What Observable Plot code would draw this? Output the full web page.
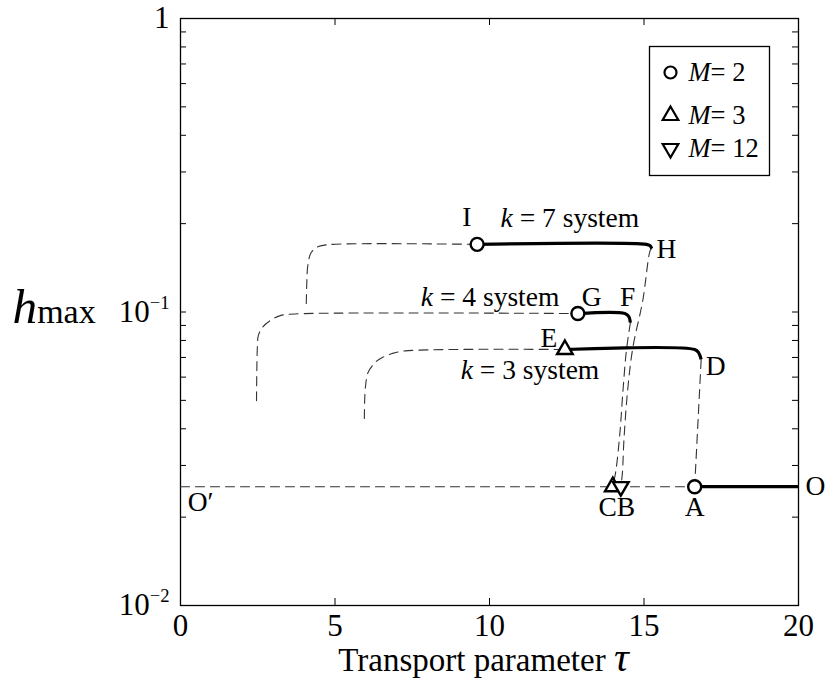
<!DOCTYPE html>
<html><head><meta charset="utf-8">
<script src="https://cdn.jsdelivr.net/npm/d3@7"></script>
<script src="https://cdn.jsdelivr.net/npm/@observablehq/plot@0.6"></script>
<style>body{margin:0;background:#fff;}</style>
</head><body><div id="chart"></div>
<script>
// ---- axes ----
const xTicks = [0, 5, 10, 15, 20];
const yMajor = [0.01, 0.1, 1];
const yMajorLabels = ["10^{−2}", "10^{−1}", "1"];
const yMinor = [0.02,0.03,0.04,0.05,0.06,0.07,0.08,0.09,0.2,0.3,0.4,0.5,0.6,0.7,0.8,0.9];

// ---- dashed branches ----
const k7LeftTau = [4.07, 4.08, 4.09, 4.12, 4.23, 4.46, 4.85, 9.60];
const k7LeftH   = [0.1069, 0.118, 0.128, 0.144, 0.1595, 0.1671, 0.1698, 0.170];
const k4LeftTau = [2.46, 2.47, 2.49, 2.52, 2.65, 2.91, 3.23, 3.72, 12.86];
const k4LeftH   = [0.0499, 0.0632, 0.0769, 0.0832, 0.0886, 0.0936, 0.0972, 0.0985, 0.0988];
const k3LeftTau = [5.95, 5.96, 5.99, 6.07, 6.30, 6.53, 6.85, 7.27, 12.44];
const k3LeftH   = [0.0434, 0.0499, 0.0562, 0.0622, 0.0673, 0.0700, 0.0722, 0.0737, 0.0745];
const hbTau = [15.25, 15.20, 14.96, 14.64, 14.47, 14.35, 14.30, 14.25];
const hbH   = [0.1646, 0.162, 0.1094, 0.0757, 0.054, 0.0365, 0.0282, 0.0254];
const fcTau = [14.56, 14.43, 14.32, 14.22, 14.09, 13.99];
const fcH   = [0.092, 0.0739, 0.054, 0.0387, 0.0288, 0.0254];
const daTau = [16.85, 16.64];
const daH   = [0.0689, 0.0254];
const oaTau = [0, 16.64];
const oaH   = [0.0254, 0.0254];

// ---- solid branches ----
const ihTau = [9.60, 15.08, 15.19, 15.25];
const ihH   = [0.170, 0.170, 0.1684, 0.1646];
const gfTau = [12.86, 14.38, 14.51, 14.56];
const gfH   = [0.0988, 0.0988, 0.0965, 0.092];
const edTau = [12.44, 16.64, 16.77, 16.85];
const edH   = [0.0745, 0.0745, 0.0726, 0.0689];
const aoTau = [16.64, 20];
const aoH   = [0.0254, 0.0254];

// ---- markers ----
const circleTau = [9.60, 12.86, 16.64];   // I, G, A  (M=2)
const circleH   = [0.170, 0.0988, 0.0254];
const upTau = [12.44, 13.99];             // E, C     (M=3)
const upH   = [0.0745, 0.0254];
const downTau = [14.25];                  // B        (M=12)
const downH   = [0.0254];

// ---- point labels ----
const labelText = ["I", "*k* = 7 system", "H", "*k* = 4 system", "G", "F", "E", "*k* = 3 system", "D", "O′", "CB", "A", "O"];
const labelTau  = [9.27, 12.60, 15.73, 10.02, 13.31, 14.47, 11.92, 11.31, 17.32, 0.65, 14.12, 16.64, 20.55];
const labelH    = [0.2099, 0.2083, 0.1633, 0.1120, 0.1120, 0.1120, 0.0812, 0.0632, 0.0652, 0.02244, 0.02157, 0.02157, 0.0254];

// ---- legend ----
const legendLabels = ["*M*= 2", "*M*= 3", "*M*= 12"];

const rows = (t, h) => t.map((v, i) => ({t: v, h: h[i]}));
const labels = labelText.map((s, i) => ({s, t: labelTau[i], h: labelH[i]}));

const downTriangle = {
  draw(context, size) {
    const y = Math.sqrt(size / (Math.sqrt(3) * 3));
    context.moveTo(0, y * 2);
    context.lineTo(-Math.sqrt(3) * y, -y);
    context.lineTo(Math.sqrt(3) * y, -y);
    context.closePath();
  }
};

const dashStyle = {x: "t", y: "h", stroke: "#333", strokeWidth: 1.1, strokeDasharray: "9,6", curve: "catmull-rom"};
const solidStyle = {x: "t", y: "h", stroke: "black", strokeWidth: 3.2, curve: "catmull-rom", strokeLinecap: "butt"};
const markStyle = {x: "t", y: "h", stroke: "black", strokeWidth: 2.4, fill: "white"};

const W = 826, H = 680, mL = 180, mR = 28, mT = 18, mB = 75;
const fw = W - mL - mR, fh = H - mT - mB;

const chart = Plot.plot({
  width: W, height: H,
  marginLeft: mL, marginRight: mR, marginTop: mT, marginBottom: mB,
  style: {fontFamily: "'Liberation Serif', 'Times New Roman', serif", background: "white", color: "black", fontSize: "24px"},
  x: {domain: [0, 20], label: null},
  y: {type: "log", domain: [0.01, 1], label: null},
  marks: [
    Plot.frame({stroke: "black", strokeWidth: 1.3}),
    // inward ticks
    Plot.ruleX(xTicks, {x: d => d, insetTop: fh - 7, stroke: "black"}),
    Plot.ruleX(xTicks, {x: d => d, insetBottom: fh - 7, stroke: "black"}),
    Plot.ruleY(yMajor.concat(yMinor), {y: d => d, insetRight: fw - 6, stroke: "black"}),
    Plot.ruleY(yMajor.concat(yMinor), {y: d => d, insetLeft: fw - 6, stroke: "black"}),
    Plot.axisX({ticks: xTicks, tickSize: 0, tickPadding: 8, fontSize: 31, label: null}),
    Plot.axisY({ticks: yMajor, tickSize: 0, tickPadding: 11, fontSize: 31, label: null,
      tickFormat: d => yMajorLabels[yMajor.indexOf(d)]}),
    // dashed
    Plot.line(rows(k7LeftTau, k7LeftH), dashStyle),
    Plot.line(rows(k4LeftTau, k4LeftH), dashStyle),
    Plot.line(rows(k3LeftTau, k3LeftH), dashStyle),
    Plot.line(rows(hbTau, hbH), dashStyle),
    Plot.line(rows(fcTau, fcH), dashStyle),
    Plot.line(rows(daTau, daH), dashStyle),
    Plot.line(rows(oaTau, oaH), dashStyle),
    // solid
    Plot.line(rows(ihTau, ihH), solidStyle),
    Plot.line(rows(gfTau, gfH), solidStyle),
    Plot.line(rows(edTau, edH), solidStyle),
    Plot.line(rows(aoTau, aoH), solidStyle),
    // markers
    Plot.dot(rows(circleTau, circleH), {...markStyle, symbol: "circle", r: 6.5}),
    Plot.dot(rows(upTau, upH), {...markStyle, symbol: "triangle", r: 5.8}),
    Plot.dot(rows(downTau, downH), {...markStyle, symbol: downTriangle, r: 5.8}),
    // labels
    Plot.text(labels, {x: "t", y: "h", text: "s", fontSize: 27.5, textAnchor: "middle", lineAnchor: "middle"}),
    // legend
    Plot.frame({stroke: "black", strokeWidth: 1.3, fill: "white", insetLeft: 469, insetRight: 29, insetTop: 28, insetBottom: 430}),
    Plot.dot([0], {frameAnchor: "top-right", dx: -128, dy: 54, symbol: "circle", r: 6, stroke: "black", strokeWidth: 2.2, fill: "white"}),
    Plot.dot([0], {frameAnchor: "top-right", dx: -128, dy: 97, symbol: "triangle", r: 5.8, stroke: "black", strokeWidth: 2.2, fill: "white"}),
    Plot.dot([0], {frameAnchor: "top-right", dx: -128, dy: 130, symbol: downTriangle, r: 5.8, stroke: "black", strokeWidth: 2.2, fill: "white"}),
    Plot.text([legendLabels[0]], {text: d => d, frameAnchor: "top-right", dx: -110, dy: 54, textAnchor: "start", lineAnchor: "middle", fontSize: 26.5}),
    Plot.text([legendLabels[1]], {text: d => d, frameAnchor: "top-right", dx: -110, dy: 97, textAnchor: "start", lineAnchor: "middle", fontSize: 26.5}),
    Plot.text([legendLabels[2]], {text: d => d, frameAnchor: "top-right", dx: -110, dy: 130, textAnchor: "start", lineAnchor: "middle", fontSize: 26.5}),
    // axis titles
    Plot.text(["Transport parameter @{τ}"], {text: d => d, frameAnchor: "bottom", dx: -6, dy: 55, fontSize: 33, textAnchor: "middle", lineAnchor: "middle"}),
    Plot.text(["@{h}max"], {text: d => d, frameAnchor: "left", dx: -168, fontSize: 34, textAnchor: "start", lineAnchor: "middle"})
  ]
});

// rich text: *italic*, ^{superscript}, @{big italic}
d3.select(chart).selectAll("text").each(function () {
  const s = this.textContent;
  if (!/[*^@]/.test(s)) return;
  const parts = s.split(/(\*[^*]+\*|\^\{[^}]+\}|@\{[^}]+\})/).filter(p => p);
  const el = d3.select(this);
  el.text(null);
  for (const p of parts) {
    const ts = el.append("tspan");
    if (p[0] === "*") ts.text(p.slice(1, -1)).attr("font-style", "italic");
    else if (p[0] === "^") ts.text(p.slice(2, -1)).attr("font-size", "0.6em").attr("dy", "-0.7em");
    else if (p[0] === "@") ts.text(p.slice(2, -1)).attr("font-style", "italic").attr("font-size", s.startsWith("@") ? "1.45em" : "1.25em");
    else ts.text(p);
  }
});

document.getElementById("chart").append(chart);
</script>
</body></html>
